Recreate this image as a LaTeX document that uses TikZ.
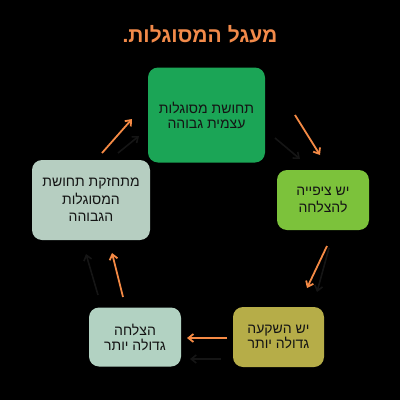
\documentclass[tikz,border=0pt]{standalone}
\usepackage{fontspec}
\TeXXeTstate=1
\newfontfamily\hebfont[Script=Hebrew]{Liberation Sans}
\usetikzlibrary{arrows.meta}
\definecolor{orng}{HTML}{F58A45}
\definecolor{titleor}{HTML}{F28A4A}
\definecolor{gtop}{HTML}{1BA556}
\definecolor{gright}{HTML}{7CC23B}
\definecolor{olive}{HTML}{B6AD48}
\definecolor{mint}{HTML}{B2D2C2}
\definecolor{mintl}{HTML}{B6CEC1}
\definecolor{shad}{HTML}{151515}
\definecolor{txt}{HTML}{141414}
\tikzset{
  box/.style={rounded corners=10pt, inner sep=0pt, align=center, text=txt,
    font=\hebfont\fontsize{14}{15}\selectfont},
  oarrow/.style={draw=orng, line width=1.8pt, -{Straight Barb[length=5pt,width=8pt]}},
  sarrow/.style={draw=shad, line width=1.6pt, -{Straight Barb[length=5pt,width=8pt]}},
}
\begin{document}
\begin{tikzpicture}[x=1pt,y=-1pt]
\fill[black] (0,0) rectangle (400,400);
\useasboundingbox (0,0) rectangle (400,400);
\node[font=\hebfont\bfseries\fontsize{21}{24}\selectfont, text=titleor] (title) at (200,34) {\beginR מעגל המסוגלות.\endR};
\node[box, fill=gtop, minimum width=117pt, minimum height=95pt] (top) at (206.5,115)
  {\beginR תחושת מסוגלות\endR\\\beginR עצמית גבוהה\endR};
\node[box, fill=gright, minimum width=92pt, minimum height=60pt, font=\hebfont\fontsize{14}{17}\selectfont] (right) at (323,200)
  {\beginR יש ציפייה\endR\\\beginR להצלחה\endR};
\node[box, fill=olive, minimum width=91pt, minimum height=60pt] (br) at (278.5,337)
  {\beginR יש השקעה\endR\\\beginR גדולה יותר\endR};
\node[box, fill=mint, minimum width=92pt, minimum height=59pt] (bl) at (135,337)
  {\beginR הצלחה\endR\\\beginR גדולה יותר\endR};
\node[box, fill=mintl, minimum width=118pt, minimum height=80pt, font=\hebfont\fontsize{14}{17.5}\selectfont] (left) at (91,200)
  {\beginR מתחזקת תחושת\endR\\\beginR המסוגלות\endR\\\beginR הגבוהה\endR};
% shadow arrows
\coordinate (s1a) at (275,138); \coordinate (s1b) at (300,159);
\coordinate (s2a) at (329,248); \coordinate (s2b) at (317,292);
\coordinate (s3a) at (221,359); \coordinate (s3b) at (190,359);
\coordinate (s4a) at (98,295);  \coordinate (s4b) at (86,254);
\coordinate (s5a) at (118,153); \coordinate (s5b) at (139,136);
\draw[sarrow] (s1a) -- (s1b);
\draw[sarrow] (s2a) -- (s2b);
\draw[sarrow] (s3a) -- (s3b);
\draw[sarrow] (s4a) -- (s4b);
\draw[sarrow] (s5a) -- (s5b);
% orange arrows
\coordinate (o1a) at (295,115); \coordinate (o1b) at (320,155);
\coordinate (o2a) at (327,246); \coordinate (o2b) at (307,288);
\coordinate (o3a) at (227,338); \coordinate (o3b) at (187,338);
\coordinate (o4a) at (123,297); \coordinate (o4b) at (112,253);
\coordinate (o5a) at (102,153); \coordinate (o5b) at (132,119);
\draw[oarrow] (o1a) -- (o1b);
\draw[oarrow] (o2a) -- (o2b);
\draw[oarrow] (o3a) -- (o3b);
\draw[oarrow] (o4a) -- (o4b);
\draw[oarrow] (o5a) -- (o5b);
\end{tikzpicture}
\end{document}
